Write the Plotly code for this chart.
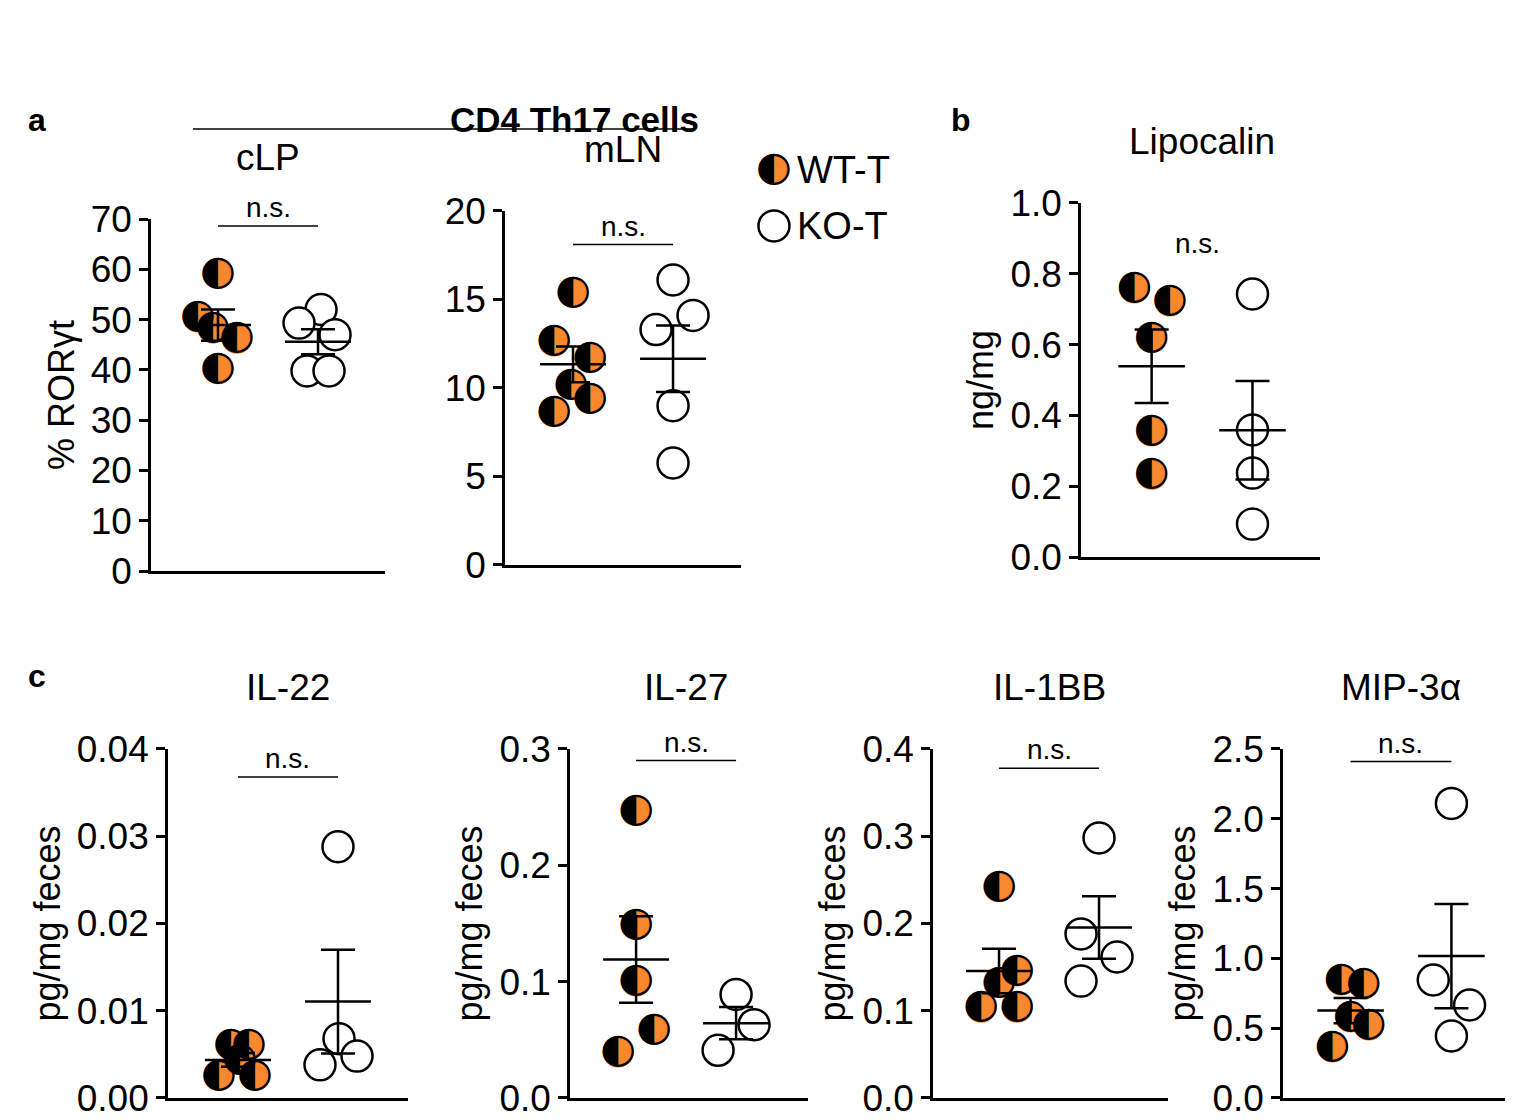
import numpy as np
import plotly.graph_objects as go

ORANGE = "#F7882F"
FONT = "Liberation Sans, Arial, sans-serif"

# ---- data ----
clp_wt = [59.2, 50.5, 48.3, 46.3, 40.2]
clp_wt_dx = [0.0, -0.2, -0.05, 0.19, 0.0]
clp_ko = [52.0, 49.3, 47.0, 39.8, 39.8]
clp_ko_dx = [0.03, -0.19, 0.17, -0.11, 0.11]

mln_wt = [15.4, 12.65, 11.7, 10.2, 9.4, 8.65]
mln_wt_dx = [0.0, -0.19, 0.17, -0.02, 0.17, -0.19]
mln_ko = [16.1, 14.1, 13.3, 9.0, 5.76]
mln_ko_dx = [0.0, 0.2, -0.17, 0.0, 0.0]

lip_wt = [0.76, 0.723, 0.62, 0.356, 0.234]
lip_wt_dx = [-0.17, 0.18, 0.0, 0.0, 0.0]
lip_ko = [0.743, 0.359, 0.237, 0.093]
lip_ko_dx = [0.0, 0.0, 0.0, 0.0]

il22_wt = [0.0061, 0.0061, 0.0044, 0.0026, 0.0026]
il22_wt_dx = [-0.07, 0.11, 0.02, -0.19, 0.17]
il22_ko = [0.0288, 0.0068, 0.0038, 0.0048]
il22_ko_dx = [0.0, 0.01, -0.18, 0.19]

il27_wt = [0.247, 0.149, 0.1006, 0.059, 0.0396]
il27_wt_dx = [0.0, 0.0, 0.0, 0.18, -0.18]
il27_ko = [0.089, 0.063, 0.041]
il27_ko_dx = [0.0, 0.18, -0.18]

il1b_wt = [0.242, 0.1455, 0.132, 0.104, 0.104]
il1b_wt_dx = [0.0, 0.18, 0.0, -0.18, 0.18]
il1b_ko = [0.298, 0.188, 0.1616, 0.134]
il1b_ko_dx = [0.0, -0.18, 0.18, -0.18]

mip_wt = [0.845, 0.817, 0.58, 0.523, 0.365]
mip_wt_dx = [-0.09, 0.13, 0.0, 0.18, -0.18]
mip_ko = [2.11, 0.845, 0.666, 0.444]
mip_ko_dx = [0.0, -0.18, 0.18, 0.0]

# panel: (name, wt, wt_dx, ko, ko_dx, x domain, y domain, y range, tickvals, tickformat, ytitle, x range, ns_y)
panels = [
    ("cLP", clp_wt, clp_wt_dx, clp_ko, clp_ko_dx, [0.0945, 0.2492], [0.4973, 0.8116], [0, 70],
     list(range(0, 71, 10)), "d", "% RORγt", [0.33, 2.67], 68.6),
    ("mLN", mln_wt, mln_wt_dx, mln_ko, mln_ko_dx, [0.3285, 0.4845], [0.5027, 0.8188], [0, 20],
     [0, 5, 10, 15, 20], "d", "", [0.32, 2.68], 18.1),
    ("Lipocalin", lip_wt, lip_wt_dx, lip_ko, lip_ko_dx, [0.7092, 0.8672], [0.5098, 0.8259], [0, 1.0],
     [0, 0.2, 0.4, 0.6, 0.8, 1.0], ".1f", "ng/mg", [0.3, 2.67], None),
    ("IL-22", il22_wt, il22_wt_dx, il22_ko, il22_ko_dx, [0.1057, 0.2644], [0.0268, 0.3384], [0, 0.04],
     [0, 0.01, 0.02, 0.03, 0.04], ".2f", "pg/mg feces", [0.3, 2.7], 0.0368),
    ("IL-27", il27_wt, il27_wt_dx, il27_ko, il27_ko_dx, [0.3715, 0.5288], [0.0268, 0.3384], [0, 0.3],
     [0, 0.1, 0.2, 0.3], ".1f", "pg/mg feces", [0.34, 2.72], 0.29),
    ("IL-1BB", il1b_wt, il1b_wt_dx, il1b_ko, il1b_ko_dx, [0.6114, 0.7667], [0.0268, 0.3384], [0, 0.4],
     [0, 0.1, 0.2, 0.3, 0.4], ".1f", "pg/mg feces", [0.34, 2.69], 0.378),
    ("MIP-3α", mip_wt, mip_wt_dx, mip_ko, mip_ko_dx, [0.8427, 0.998], [0.0268, 0.3384], [0, 2.5],
     [0, 0.5, 1.0, 1.5, 2.0, 2.5], ".1f", "pg/mg feces", [0.33, 2.66], 2.41),
]

fig = go.Figure()
layout = {}
annotations = []


def add_points(xs, ys, xa, ya, half):
    fig.add_trace(go.Scatter(
        x=xs, y=ys, mode="markers", xaxis=xa, yaxis=ya, cliponaxis=False, showlegend=False,
        marker=dict(size=31, color=ORANGE if half else "white",
                    line=dict(color="black", width=0 if half else 2.5))))
    if half:
        fig.add_trace(go.Scatter(
            x=xs, y=ys, mode="text", text=["◐"] * len(xs), xaxis=xa, yaxis=ya,
            cliponaxis=False, showlegend=False, textposition="middle center",
            textfont=dict(family="DejaVu Sans", size=41, color="black")))


def add_stats(vals, g, xa, ya):
    m = np.mean(vals)
    sem = np.std(vals, ddof=1) / np.sqrt(len(vals))
    fig.add_trace(go.Scatter(x=[g - 0.33, g + 0.33], y=[m, m], mode="lines", xaxis=xa, yaxis=ya,
                             showlegend=False, line=dict(color="black", width=2.5)))
    fig.add_trace(go.Scatter(x=[g], y=[m], mode="lines", xaxis=xa, yaxis=ya, showlegend=False,
                             error_y=dict(type="data", array=[sem], color="black",
                                          thickness=2.5, width=17)))


for i, (name, wt, wdx, ko, kdx, xd, yd, yr, tv, tf, yt, xr, ns_y) in enumerate(panels):
    n = "" if i == 0 else str(i + 1)
    xa, ya = "x" + n, "y" + n
    add_points([1 + d for d in wdx], wt, xa, ya, True)
    add_points([2 + d for d in kdx], ko, xa, ya, False)
    add_stats(wt, 1, xa, ya)
    add_stats(ko, 2, xa, ya)

    layout["xaxis" + n] = dict(domain=xd, range=xr, anchor=ya, showticklabels=False, ticks="",
                               showgrid=False, zeroline=False, showline=True, automargin=False,
                               linecolor="black", linewidth=2.5)
    layout["yaxis" + n] = dict(domain=yd, range=yr, anchor=xa, tickvals=tv, tickformat=tf,
                               ticks="outside", ticklen=9, tickwidth=2.5, tickcolor="black",
                               showgrid=False, zeroline=False, showline=True, automargin=False,
                               linecolor="black", linewidth=2.5,
                               tickfont=dict(size=37, family=FONT, color="black"),
                               title=dict(text=yt, font=dict(size=36, family=FONT, color="black"),
                                          standoff=6))
    annotations.append(dict(text=name, x=1.5, xref=xa, y=yd[1] + 0.035, yref="paper",
                            yanchor="bottom", showarrow=False,
                            font=dict(size=37, family=FONT, color="black")))
    if ns_y is not None:
        fig.add_shape(type="line", x0=1, x1=2, y0=ns_y, y1=ns_y, xref=xa, yref=ya,
                      line=dict(color="black", width=1.5))
        annotations.append(dict(text="n.s.", x=1.5, xref=xa, y=ns_y, yref=ya, yanchor="bottom",
                                yshift=1, showarrow=False,
                                font=dict(size=28, family=FONT, color="black")))
    else:
        annotations.append(dict(text="n.s.", x=1.45, xref=xa, y=0.885, yref=ya, showarrow=False,
                                font=dict(size=28, family=FONT, color="black")))

# legend drawn on a hidden helper axis
legend_labels = ["WT-T", "KO-T"]
layout["xaxis8"] = dict(domain=[0.495, 0.62], range=[0, 1], visible=False, anchor="y8")
layout["yaxis8"] = dict(domain=[0.79, 0.86], range=[0, 1], visible=False, anchor="x8")
add_points([0.09], [0.94], "x8", "y8", True)
add_points([0.09], [0.22], "x8", "y8", False)
for lab, yv in zip(legend_labels, [0.94, 0.22]):
    annotations.append(dict(text=lab, x=0.2, xref="x8", y=yv, yref="y8", xanchor="left",
                            showarrow=False, font=dict(size=38, family=FONT, color="black")))

# headers
fig.add_shape(type="line", x0=185 / 1513, x1=686 / 1513, y0=1 - 121 / 1120, y1=1 - 121 / 1120,
              xref="paper", yref="paper", line=dict(color="black", width=1.5))
annotations.append(dict(text="<b>CD4 Th17 cells</b>", x=440 / 1513, y=1 - 90 / 1120, xref="paper",
                        yref="paper", showarrow=False, font=dict(size=35, family=FONT, color="black")))
for letter, px, py in [("a", 18, 92), ("b", 953, 92), ("c", 18, 668)]:
    annotations.append(dict(text="<b>" + letter + "</b>", x=px / 1513, y=1 - py / 1120,
                            xref="paper", yref="paper", showarrow=False,
                            font=dict(size=32, family=FONT, color="black")))

fig.update_layout(width=1513, height=1120, margin=dict(l=0, r=0, t=0, b=0),
                  plot_bgcolor="white", paper_bgcolor="white", showlegend=False,
                  annotations=annotations, **layout)

fig.write_html("out.html")
